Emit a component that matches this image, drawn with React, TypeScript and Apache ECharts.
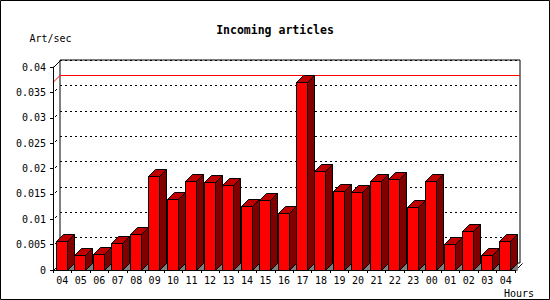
import React, { useEffect, useRef } from "react";
import * as echarts from "echarts";

const hours = ["04", "05", "06", "07", "08", "09", "10", "11", "12", "13", "14", "15", "16", "17", "18", "19", "20", "21", "22", "23", "00", "01", "02", "03", "04"];
const artPerSec = [0.0057, 0.0029, 0.0031, 0.0053, 0.0071, 0.0185, 0.0139, 0.0175, 0.0173, 0.0167, 0.0126, 0.0137, 0.0112, 0.037, 0.0195, 0.0156, 0.0153, 0.0175, 0.0179, 0.0124, 0.0175, 0.0051, 0.0077, 0.0029, 0.0057];
const yTickValues = [0.005, 0.01, 0.015, 0.02, 0.025, 0.03, 0.035, 0.04];
const yMin = 0;
const yMax = 0.04;
const yStep = 0.005;
const titleText = "Incoming articles";
const yName = "Art/sec";
const xName = "Hours";

export default function App() {
  const ref = useRef<HTMLDivElement>(null);
  useEffect(() => {
    const chart = echarts.init(ref.current!, null, { renderer: "svg" });
    const D = 7;
    const FONT = "DejaVu Sans Mono";
    const maxVal = Math.max(...artPerSec);
    const option: any = {
      animation: false,
      backgroundColor: "#ffffff",
      title: {
        text: titleText,
        left: "center",
        top: 19,
        textStyle: { fontFamily: FONT, fontSize: 11.5, fontWeight: "bold", color: "#000" },
      },
      graphic: [
        {
          type: "rect",
          shape: { x: 0.5, y: 0.5, width: 549, height: 299 },
          style: { fill: "none", stroke: "#000", lineWidth: 1 },
          z: 100,
        },
      ],
      grid: [
        { left: 53, top: 67, right: 35, bottom: 30, containLabel: false },
        { left: 60, top: 60, right: 30, bottom: 37, containLabel: false, show: true, borderColor: "#000", borderWidth: 1, backgroundColor: "transparent" },
      ],
      xAxis: [
        {
          type: "category",
          gridIndex: 0,
          data: hours,
          boundaryGap: true,
          axisLine: { show: true, lineStyle: { color: "#000", width: 1 } },
          axisTick: { show: true, length: 3, alignWithLabel: false, lineStyle: { color: "#000" } },
          axisLabel: { fontFamily: FONT, fontSize: 10, color: "#000", margin: 5, interval: 0 },
          splitLine: { show: false },
          name: xName,
          nameLocation: "end",
          nameGap: 19,
          nameTextStyle: { fontFamily: FONT, fontSize: 10, color: "#000", align: "right", verticalAlign: "top", padding: [18, 0, 0, 0] },
          z: 5,
        },
        {
          type: "category",
          gridIndex: 1,
          data: hours,
          boundaryGap: true,
          show: false,
        },
      ],
      yAxis: [
        {
          type: "value",
          gridIndex: 0,
          min: yMin,
          max: yMax,
          interval: yStep,
          axisLine: { show: true, lineStyle: { color: "#000", width: 1 } },
          axisTick: { show: true, length: 3, lineStyle: { color: "#000" } },
          axisLabel: { fontFamily: FONT, fontSize: 10, color: "#000", margin: 7 },
          splitLine: { show: false },
          name: yName,
          nameLocation: "end",
          nameGap: 24,
          nameTextStyle: { fontFamily: FONT, fontSize: 10, color: "#000", padding: [0, 5, 0, 0] },
          z: 5,
        },
        {
          type: "value",
          gridIndex: 1,
          min: yMin,
          max: yMax,
          interval: yStep,
          axisLine: { show: false },
          axisTick: { show: false },
          axisLabel: { show: false },
          splitLine: { show: true, lineStyle: { color: "#000", type: [2, 3], width: 1 } },
        },
      ],
      series: [
        {
          type: "custom",
          name: "maxline",
          xAxisIndex: 1,
          yAxisIndex: 1,
          z: 2,
          data: [[0, maxVal]],
          encode: { x: 0, y: 1 },
          renderItem: (params: any, api: any) => {
            const cs = params.coordSys;
            const yr = Math.round(api.coord([0, api.value(1)])[1]);
            const y = yr + 0.5;
            return {
              type: "group",
              children: [
                { type: "rect", shape: { x: Math.round(cs.x), y: yr, width: Math.round(cs.width), height: 1 }, style: { fill: "#ff0000" } },
                { type: "line", shape: { x1: cs.x - D, y1: y + D, x2: cs.x, y2: y }, style: { stroke: "#ff0000", lineWidth: 1 } },
              ],
            };
          },
        },
        {
          type: "custom",
          name: "frame",
          xAxisIndex: 0,
          yAxisIndex: 0,
          z: 2,
          data: [[0, 0]],
          encode: { x: 0, y: 1 },
          renderItem: (params: any) => {
            const cs = params.coordSys;
            const l = Math.round(cs.x) + 0.5;
            const t = Math.round(cs.y) + 0.5;
            const r = Math.round(cs.x + cs.width) + 0.5;
            const b = Math.round(cs.y + cs.height) + 0.5;
            const st = { stroke: "#000", lineWidth: 1 };
            return {
              type: "group",
              children: [
                { type: "line", shape: { x1: l, y1: t, x2: l + D, y2: t - D }, style: st },
                { type: "line", shape: { x1: l, y1: b, x2: l + D, y2: b - D }, style: st },
                { type: "line", shape: { x1: r, y1: b, x2: r + D, y2: b - D }, style: st },
              ],
            };
          },
        },
        {
          type: "custom",
          name: "stubs",
          xAxisIndex: 0,
          yAxisIndex: 0,
          z: 2,
          data: yTickValues.map((v) => [0, v]),
          encode: { x: 0, y: 1 },
          renderItem: (params: any, api: any) => {
            const cs = params.coordSys;
            const y = Math.round(api.coord([0, api.value(1)])[1]) + 0.5;
            const x = Math.round(cs.x) + 0.5;
            return {
              type: "line",
              shape: { x1: x + 1.5, y1: y - 1.5, x2: x + 3.5, y2: y - 3.5 },
              style: { stroke: "#000", lineWidth: 1 },
            };
          },
        },
        {
          type: "custom",
          name: "Art/sec",
          xAxisIndex: 0,
          yAxisIndex: 0,
          z: 3,
          data: artPerSec.map((v, i) => [i, v]),
          encode: { x: 0, y: 1 },
          renderItem: (params: any, api: any) => {
            const idx = api.value(0);
            const v = api.value(1);
            const top = api.coord([idx, v]);
            const base = api.coord([idx, 0]);
            const x0 = Math.floor(top[0] - 6) + 0.5;
            const x1 = x0 + 11;
            const yt = Math.round(top[1]) + 0.5;
            const y0 = Math.round(base[1]) + 0.5;
            const st = { stroke: "#000", lineWidth: 1 };
            return {
              type: "group",
              children: [
                { type: "polygon", shape: { points: [[x1, y0], [x1 + D, y0 - D], [x1 + D, y0]] }, style: { fill: "#808080", stroke: "#808080", lineWidth: 1 } },
                { type: "rect", shape: { x: x0, y: yt, width: x1 - x0, height: y0 - yt }, style: { fill: "#ff0000", ...st } },
                { type: "polygon", shape: { points: [[x0, yt], [x0 + D, yt - D], [x1 + D, yt - D], [x1, yt]] }, style: { fill: "#c00000", ...st } },
                { type: "polygon", shape: { points: [[x1, yt], [x1 + D, yt - D], [x1 + D, y0 - D], [x1, y0]] }, style: { fill: "#800000", ...st } },
              ],
            };
          },
        },
      ],
    };
    chart.setOption(option);
    return () => chart.dispose();
  }, []);
  return <div ref={ref} style={{ position: "fixed", left: 0, top: 0, width: 550, height: 300 }} />;
}
